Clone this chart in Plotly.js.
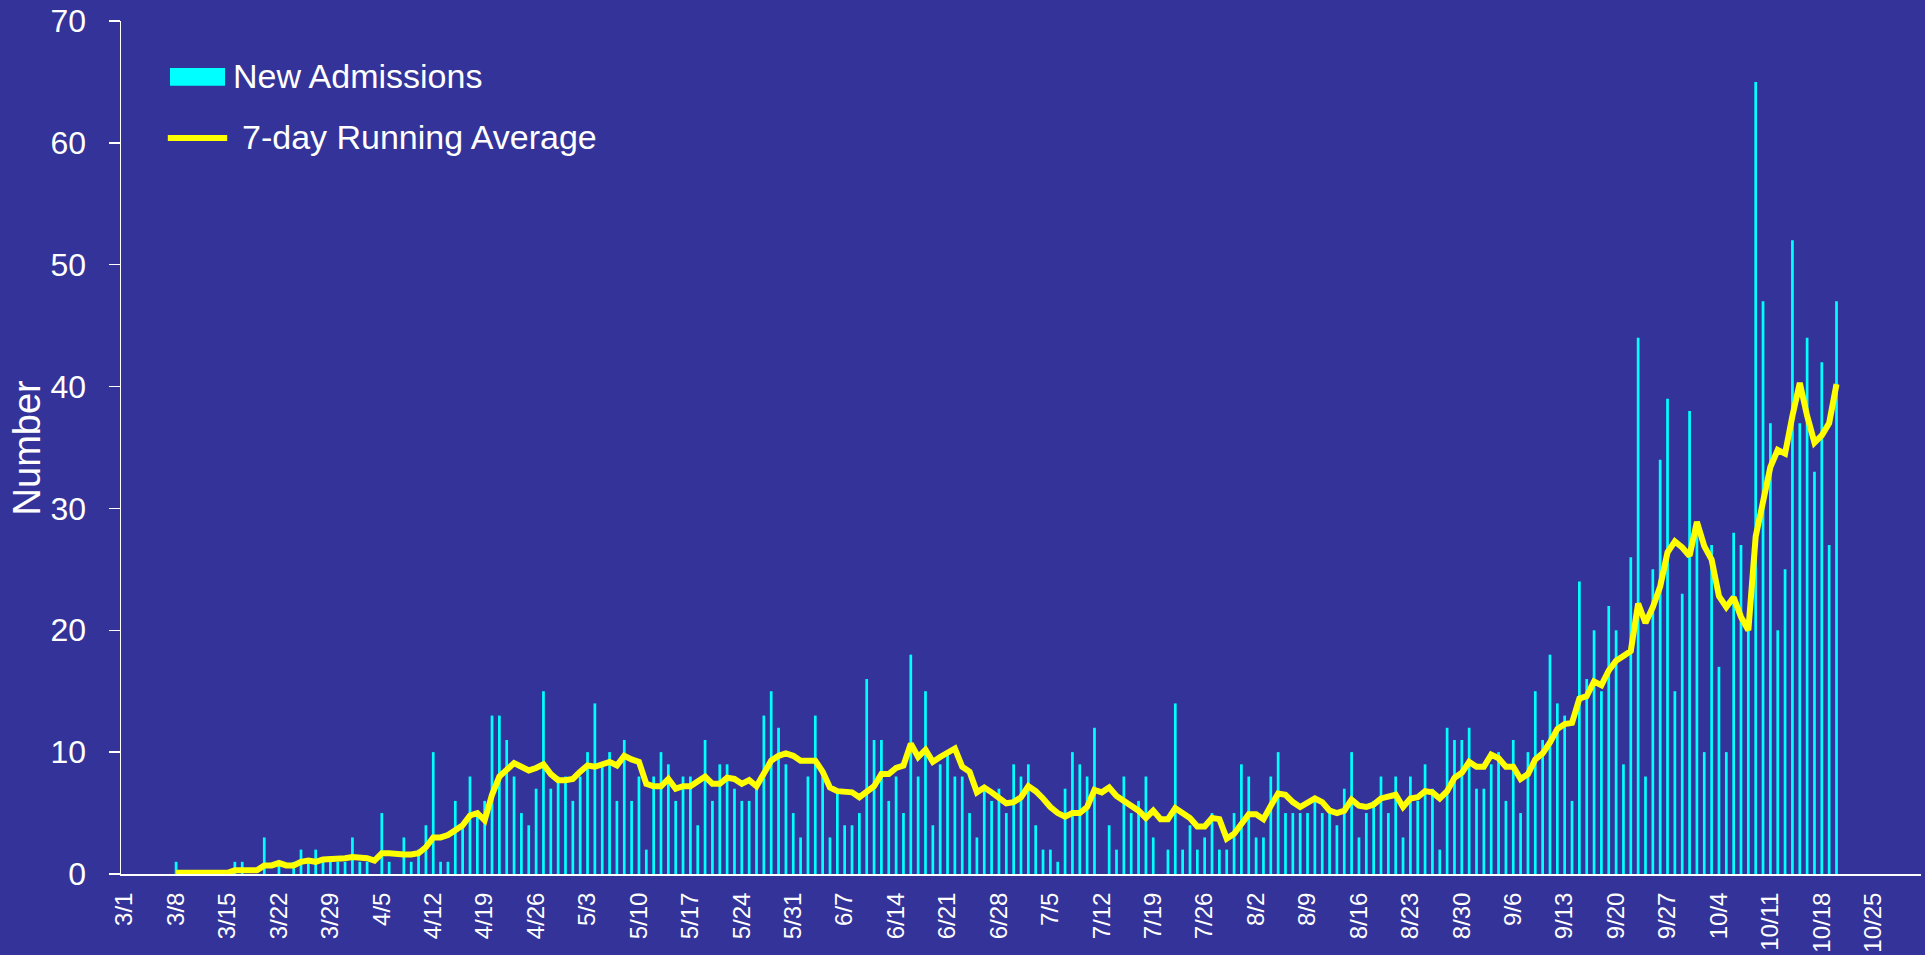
<!DOCTYPE html>
<html>
<head>
<meta charset="utf-8">
<script src="https://cdn.plot.ly/plotly-3.0.1.min.js"></script>
<style>
  html, body { margin: 0; padding: 0; background: #333399; }
  #plot { width: 1925px; height: 955px; }
</style>
</head>
<body>
<div id="plot"></div>
<script>
// daily new admissions, one array per month (2020)
const marAdmissions = [0,0,0,0,0,0,0,1,0,0,0,0,0,0,0,1,1,0,0,3,0,1,0,1,2,1,2,1,1,1,1];
const aprAdmissions = [3,1,1,0,5,1,0,3,1,2,4,10,1,1,6,4,8,5,6,13,13,11,8,5,4,7,15,7,8,8];
const mayAdmissions = [6,8,10,14,9,10,6,11,6,8,2,8,10,9,6,8,8,4,11,6,9,9,7,6,6,7,13,15,12,9,5];
const junAdmissions = [3,8,13,8,3,7,4,4,5,16,11,11,6,8,5,18,8,15,4,9,10,8,8,5,3,7,6,7,5,9];
const julAdmissions = [8,9,4,2,2,1,7,10,9,8,12,0,4,2,8,5,6,8,3,0,2,14,2,4,2,3,5,2,2,5,9];
const augAdmissions = [8,3,3,8,10,5,5,5,5,6,5,5,4,7,10,3,5,6,8,5,8,3,8,6,9,7,2,12,11,11,12];
const sepAdmissions = [7,7,9,10,6,11,5,10,15,11,18,14,13,6,24,16,20,15,22,20,9,26,44,8,25,34,39,15,23,38];
const octAdmissions = [28,10,27,17,10,28,27,20,65,47,37,20,25,52,37,44,33,42,27,47];

// 7-day running average as drawn
const marAverage = [null,null,null,null,null,null,null,0.1,0.1,0.1,0.1,0.1,0.1,0.1,0.1,0.3,0.3,0.3,0.3,0.7,0.7,0.9,0.7,0.7,1.0,1.1,1.0,1.2,1.2,1.3,1.3];
const aprAverage = [1.4,1.4,1.3,1.1,1.7,1.7,1.6,1.6,1.6,1.7,2.2,3.0,3.0,3.2,3.6,4.0,4.8,5.0,4.4,6.5,8.0,8.5,9.1,8.8,8.5,8.7,9.0,8.2,7.7,7.7];
const mayAverage = [7.8,8.4,8.9,8.8,9.0,9.2,8.9,9.7,9.4,9.2,7.4,7.2,7.2,7.8,7.0,7.2,7.2,7.6,8.0,7.4,7.4,7.9,7.8,7.4,7.7,7.2,8.2,9.3,9.7,9.9,9.7];
const junAverage = [9.3,9.3,9.3,8.4,7.1,6.8,6.7,6.7,6.3,6.7,7.2,8.2,8.2,8.7,8.9,10.7,9.6,10.2,9.2,9.6,9.9,10.3,8.8,8.4,6.7,7.1,6.7,6.2,5.8,5.9];
const julAverage = [6.3,7.2,6.8,6.2,5.5,5.0,4.7,5.0,5.0,5.5,6.9,6.7,7.1,6.4,6.0,5.5,5.2,4.6,5.2,4.5,4.5,5.4,5.0,4.6,3.9,3.9,4.6,4.5,2.9,3.3,4.1];
const augAverage = [4.9,4.9,4.5,5.6,6.6,6.5,5.9,5.5,5.8,6.2,5.9,5.2,5.0,5.2,6.1,5.6,5.5,5.7,6.2,6.3,6.5,5.5,6.2,6.3,6.8,6.7,6.2,6.8,7.9,8.3,9.2];
const sepAverage = [8.8,8.8,9.8,9.5,8.8,8.8,7.8,8.2,9.4,9.9,10.8,11.9,12.3,12.4,14.4,14.6,15.8,15.5,16.7,17.5,17.9,18.3,22.2,20.6,21.9,23.6,26.4,27.3,26.8,26.1];
const octAverage = [28.9,26.9,25.8,22.8,21.9,22.7,21.1,20.0,27.7,30.5,33.4,34.8,34.5,37.6,40.3,37.6,35.4,36.0,37.0,40.2];

const tickLabels = ['3/1','3/8','3/15','3/22','3/29','4/5','4/12','4/19','4/26','5/3','5/10','5/17',
  '5/24','5/31','6/7','6/14','6/21','6/28','7/5','7/12','7/19','7/26','8/2','8/9','8/16','8/23',
  '8/30','9/6','9/13','9/20','9/27','10/4','10/11','10/18','10/25'];

function monthDates(month, n) {
  const out = [];
  for (let d = 1; d <= n; d++) {
    out.push('2020-' + String(month).padStart(2, '0') + '-' + String(d).padStart(2, '0'));
  }
  return out;
}

const admissions = [].concat(marAdmissions, aprAdmissions, mayAdmissions, junAdmissions,
  julAdmissions, augAdmissions, sepAdmissions, octAdmissions);
const average = [].concat(marAverage, aprAverage, mayAverage, junAverage,
  julAverage, augAverage, sepAverage, octAverage);
const dates = [].concat(monthDates(3, 31), monthDates(4, 30), monthDates(5, 31), monthDates(6, 30),
  monthDates(7, 31), monthDates(8, 31), monthDates(9, 30), monthDates(10, octAdmissions.length));

const tickVals = tickLabels.map(function (t) {
  const p = t.split('/');
  return '2020-' + p[0].padStart(2, '0') + '-' + p[1].padStart(2, '0');
});

const font = 'Liberation Sans, Arial, sans-serif';
const DAY = 86400000;

const bars = {
  x: dates,
  y: admissions,
  type: 'bar',
  width: 0.37 * DAY,
  marker: { color: '#00FFFF' },
  name: 'New Admissions'
};

const line = {
  x: dates,
  y: average,
  type: 'scatter',
  mode: 'lines',
  line: { color: '#FFFF00', width: 6 },
  name: '7-day Running Average'
};

const layout = {
  width: 1925,
  height: 955,
  margin: { l: 121, r: 4, t: 21, b: 81, pad: 0 },
  paper_bgcolor: '#333399',
  plot_bgcolor: '#333399',
  font: { family: font, color: '#FFFFFF' },
  showlegend: false,
  xaxis: {
    type: 'date',
    range: ['2020-02-29 12:00', '2020-10-31 12:00'],
    tickmode: 'array',
    tickvals: tickVals,
    ticktext: tickLabels,
    tickangle: -90,
    tickfont: { size: 24, color: '#FFFFFF', family: font },
    ticks: '',
    ticklabelstandoff: 7,
    showline: true,
    linecolor: '#FFFFFF',
    linewidth: 2,
    showgrid: false,
    zeroline: false
  },
  yaxis: {
    range: [0, 70],
    tick0: 0,
    dtick: 10,
    ticks: 'outside',
    ticklen: 11,
    tickwidth: 1.5,
    tickcolor: '#FFFFFF',
    ticklabelstandoff: 16,
    tickfont: { size: 32, color: '#FFFFFF', family: font },
    showline: true,
    linecolor: '#FFFFFF',
    linewidth: 1.5,
    showgrid: false,
    zeroline: false
  },
  shapes: [
    { type: 'rect', xref: 'paper', yref: 'paper', x0: 0.0272, x1: 0.0578, y0: 0.924, y1: 0.945,
      fillcolor: '#00FFFF', line: { width: 0 } },
    { type: 'line', xref: 'paper', yref: 'paper', x0: 0.0260, x1: 0.0590, y0: 0.8628, y1: 0.8628,
      line: { color: '#FFFF00', width: 6 } }
  ],
  annotations: [
    // y axis title, placed by hand
    { xref: 'paper', yref: 'paper', x: -0.0522, y: 0.499, xanchor: 'center', yanchor: 'middle',
      textangle: -90, text: 'Number', showarrow: false,
      font: { size: 38, color: '#FFFFFF', family: font } },
    { xref: 'paper', yref: 'paper', x: 0.0611, y: 0.9355, xanchor: 'left', yanchor: 'middle',
      text: 'New Admissions', showarrow: false, font: { size: 34, color: '#FFFFFF', family: font } },
    { xref: 'paper', yref: 'paper', x: 0.0661, y: 0.8645, xanchor: 'left', yanchor: 'middle',
      text: '7-day Running Average', showarrow: false, font: { size: 34, color: '#FFFFFF', family: font } }
  ]
};

Plotly.newPlot('plot', [bars, line], layout, { displayModeBar: false, staticPlot: true });
</script>
</body>
</html>
